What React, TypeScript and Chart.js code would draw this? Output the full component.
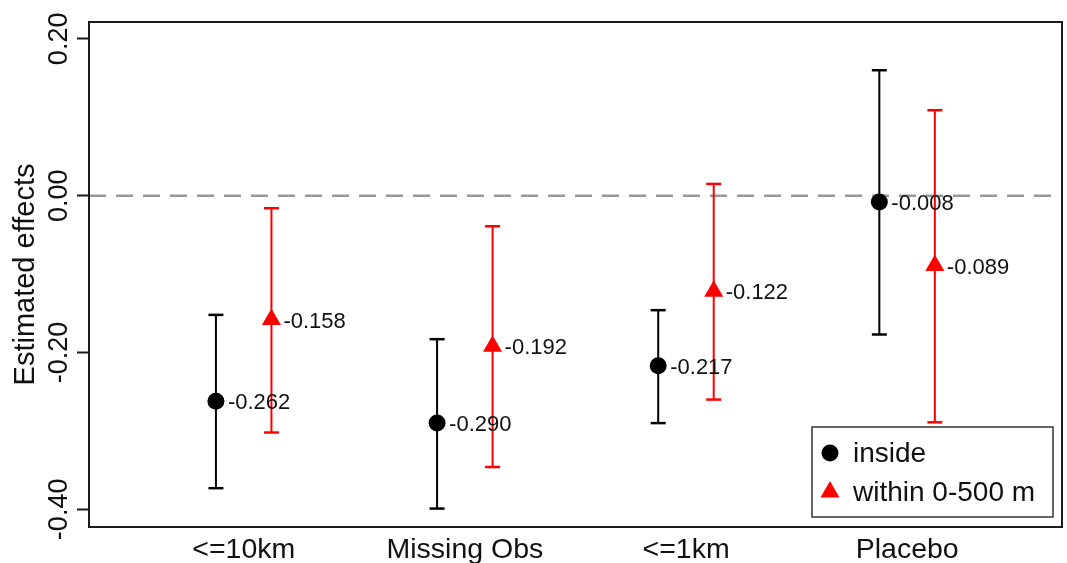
import React, { useEffect, useRef } from "react";
import { Chart, registerables } from "chart.js";

Chart.register(...registerables);

// ---- data ----
const categories = ["<=10km", "Missing Obs", "<=1km", "Placebo"];
const seriesNames = ["inside", "within 0-500 m"];
const insideEst = [-0.262, -0.29, -0.217, -0.008];
const insideLow = [-0.373, -0.399, -0.29, -0.177];
const insideHigh = [-0.152, -0.183, -0.146, 0.16];
const withinEst = [-0.158, -0.192, -0.122, -0.089];
const withinLow = [-0.302, -0.346, -0.26, -0.289];
const withinHigh = [-0.016, -0.039, 0.015, 0.109];
const yTickValues = [-0.4, -0.2, 0, 0.2];

// ---- style ----
const FONT = "'Liberation Sans', Arial, Helvetica, sans-serif";
const RED = "#ff0000";
const BLACK = "#000000";
const INSIDE_OFFSET = -0.126;
const WITHIN_OFFSET = 0.125;

function markerPoints(est: number[], offset: number) {
  return est.map((v, i) => ({ x: i + 1 + offset, y: v }));
}

function errorBarPoints(low: number[], high: number[], offset: number) {
  const pts: { x: number; y: number | null }[] = [];
  low.forEach((l, i) => {
    const x = i + 1 + offset;
    pts.push({ x, y: l }, { x, y: high[i] }, { x, y: null });
  });
  return pts;
}

const decorPlugin = {
  id: "decor",
  beforeDatasetsDraw(chart: any) {
    const { ctx, chartArea, scales } = chart;
    const y0 = scales.y.getPixelForValue(0);
    ctx.save();
    ctx.strokeStyle = "#999999";
    ctx.lineWidth = 2.5;
    ctx.setLineDash([17, 10]);
    ctx.beginPath();
    ctx.moveTo(chartArea.left, y0);
    ctx.lineTo(chartArea.right, y0);
    ctx.stroke();
    ctx.restore();
  },
  afterDatasetsDraw(chart: any) {
    const { ctx } = chart;
    const ests = [insideEst, withinEst];
    ctx.save();
    ctx.font = `22px ${FONT}`;
    ctx.fillStyle = "#111111";
    ctx.textAlign = "left";
    ctx.textBaseline = "middle";
    [0, 1].forEach((di) => {
      const meta = chart.getDatasetMeta(di);
      meta.data.forEach((el: any, j: number) => {
        ctx.fillText(ests[di][j].toFixed(3), el.x + 12, el.y + 2);
      });
    });
    ctx.restore();
  },
  afterDraw(chart: any) {
    const { ctx, chartArea } = chart;
    ctx.save();
    // frame
    ctx.strokeStyle = "#1a1a1a";
    ctx.lineWidth = 2;
    ctx.strokeRect(chartArea.left, chartArea.top, chartArea.right - chartArea.left, chartArea.bottom - chartArea.top);
    // legend
    const w = 241;
    const h = 90;
    const bx = chartArea.right - 9 - w;
    const by = chartArea.bottom - 10 - h;
    ctx.fillStyle = "#ffffff";
    ctx.fillRect(bx, by, w, h);
    ctx.strokeStyle = "#333333";
    ctx.lineWidth = 1.5;
    ctx.strokeRect(bx, by, w, h);
    const mx = bx + 18;
    const r1 = by + 26;
    const r2 = by + 65;
    ctx.fillStyle = BLACK;
    ctx.beginPath();
    ctx.arc(mx, r1, 8.5, 0, Math.PI * 2);
    ctx.fill();
    ctx.fillStyle = RED;
    const tr = 11;
    ctx.beginPath();
    ctx.moveTo(mx, r2 - tr);
    ctx.lineTo(mx + tr * Math.sin((2 * Math.PI) / 3), r2 - tr * Math.cos((2 * Math.PI) / 3));
    ctx.lineTo(mx + tr * Math.sin((4 * Math.PI) / 3), r2 - tr * Math.cos((4 * Math.PI) / 3));
    ctx.closePath();
    ctx.fill();
    ctx.fillStyle = "#111111";
    ctx.font = `28px ${FONT}`;
    ctx.textAlign = "left";
    ctx.textBaseline = "middle";
    ctx.fillText(seriesNames[0], bx + 41, r1 + 1);
    ctx.fillText(seriesNames[1], bx + 41, r2 + 1);
    ctx.restore();
  },
};

export default function App() {
  const canvasRef = useRef<HTMLCanvasElement | null>(null);

  useEffect(() => {
    if (!canvasRef.current) return;
    const chart = new Chart(canvasRef.current, {
      type: "scatter",
      data: {
        datasets: [
          {
            label: seriesNames[0],
            data: markerPoints(insideEst, INSIDE_OFFSET),
            pointStyle: "circle",
            pointRadius: 8.5,
            pointBackgroundColor: BLACK,
            pointBorderColor: BLACK,
            pointBorderWidth: 0,
          },
          {
            label: seriesNames[1],
            data: markerPoints(withinEst, WITHIN_OFFSET),
            pointStyle: "triangle",
            pointRadius: 11,
            pointBackgroundColor: RED,
            pointBorderColor: RED,
            pointBorderWidth: 0,
          },
          {
            label: "inside CI",
            data: errorBarPoints(insideLow, insideHigh, INSIDE_OFFSET),
            showLine: true,
            spanGaps: false,
            borderColor: BLACK,
            borderWidth: 2,
            pointStyle: "line",
            pointRadius: 7.5,
            pointBorderWidth: 2.5,
            pointBorderColor: BLACK,
          },
          {
            label: "within CI",
            data: errorBarPoints(withinLow, withinHigh, WITHIN_OFFSET),
            showLine: true,
            spanGaps: false,
            borderColor: RED,
            borderWidth: 2,
            pointStyle: "line",
            pointRadius: 7.5,
            pointBorderWidth: 2.5,
            pointBorderColor: RED,
          },
        ],
      } as any,
      options: {
        responsive: false,
        animation: false,
        events: [],
        layout: { autoPadding: false, padding: { top: 22, right: 5, left: 0, bottom: 0 } },
        plugins: {
          legend: { display: false },
          tooltip: { enabled: false },
        },
        scales: {
          x: {
            type: "linear",
            min: 0.3,
            max: 4.7,
            border: { display: false },
            grid: { display: false, drawTicks: false },
            afterBuildTicks: (scale: any) => {
              scale.ticks = categories.map((_, i) => ({ value: i + 1 }));
            },
            afterFit: (scale: any) => {
              scale.height = 36;
              scale.paddingLeft = 0;
              scale.paddingRight = 0;
            },
            ticks: {
              padding: 6,
              maxRotation: 0,
              minRotation: 0,
              autoSkip: false,
              color: "#111111",
              font: { family: FONT, size: 28.5 },
              callback: (v: any) => categories[Math.round(Number(v)) - 1] ?? "",
            },
          },
          y: {
            type: "linear",
            min: -0.4225,
            max: 0.2215,
            border: { display: false },
            grid: {
              display: true,
              drawOnChartArea: false,
              drawTicks: true,
              tickLength: 12,
              tickColor: "#1a1a1a",
              tickWidth: 2,
            },
            afterBuildTicks: (scale: any) => {
              scale.ticks = yTickValues.map((v) => ({ value: v }));
            },
            afterFit: (scale: any) => {
              scale.width = 89;
            },
            ticks: {
              minRotation: 90,
              maxRotation: 90,
              crossAlign: "center",
              padding: -13,
              color: "#111111",
              font: { family: FONT, size: 27 },
              callback: (v: any) => Number(v).toFixed(2),
            },
            title: {
              display: true,
              text: "Estimated effects",
              color: "#111111",
              font: { family: FONT, size: 29 },
              padding: { top: 9, bottom: 0 },
            },
          },
        },
      } as any,
      plugins: [decorPlugin],
    });
    return () => chart.destroy();
  }, []);

  return (
    <div style={{ position: "fixed", left: 0, top: 0, width: 1067, height: 563, background: "#ffffff" }}>
      <canvas ref={canvasRef} width={1067} height={563} />
    </div>
  );
}
